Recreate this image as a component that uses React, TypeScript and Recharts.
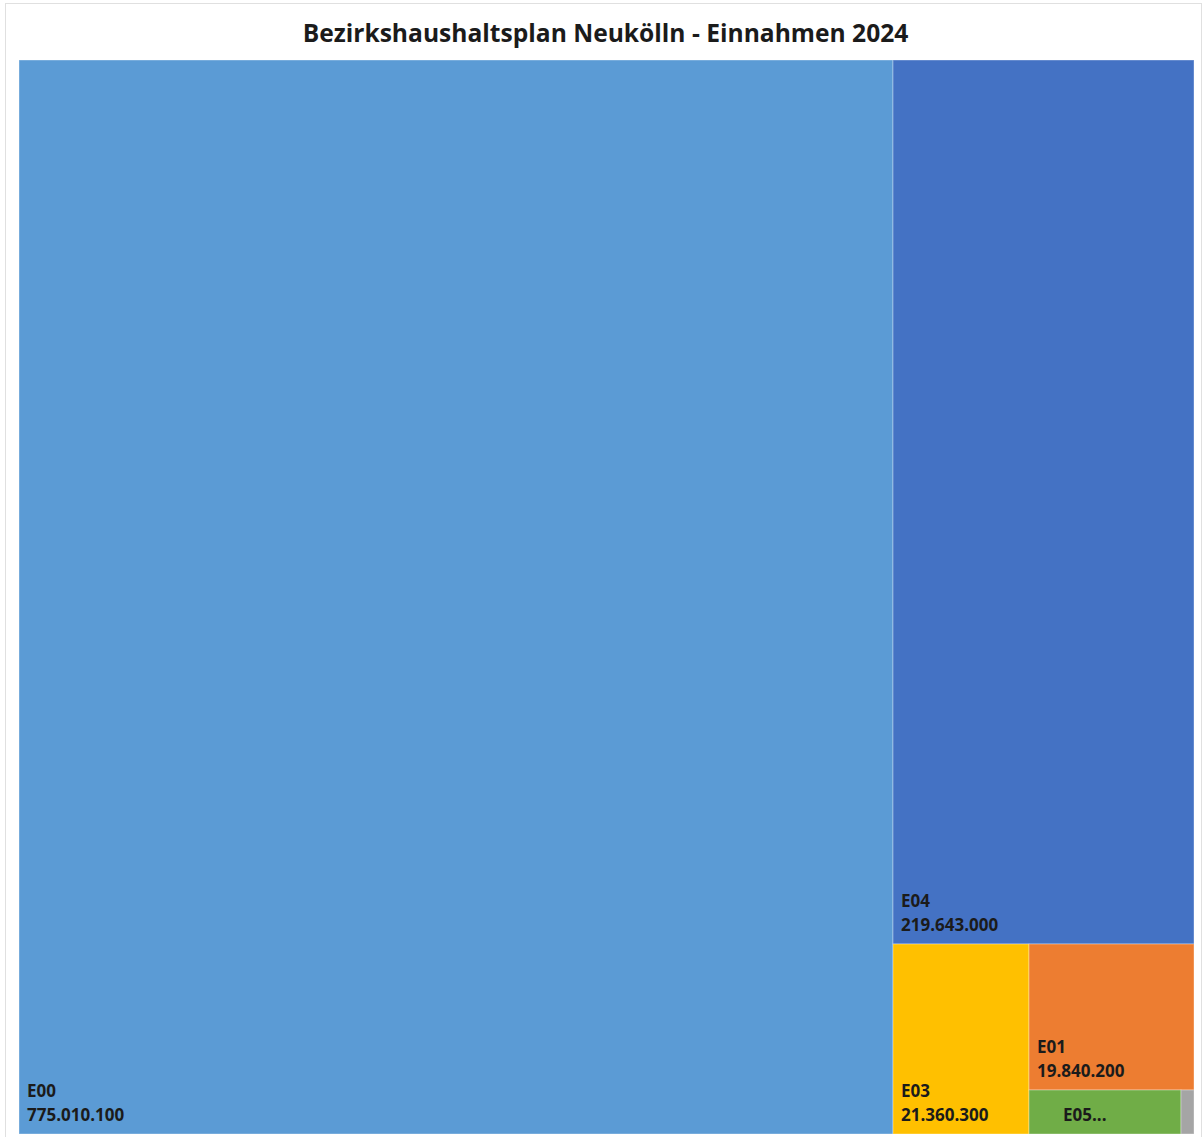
import React from 'react';
import { Treemap } from 'recharts';

// Einnahmen nach Einzelplan (EUR)
const names = ['E00', 'E04', 'E03', 'E01', 'E05', 'E06'];
const values = [775010100, 219643000, 21360300, 19840200, 5520000, 450000];
const colors = ['#5B9BD5', '#4472C4', '#FFC000', '#ED7D31', '#70AD47', '#A5A5A5'];

const data = names.map((name, i) => ({ name, value: values[i] }));

const formatDe = (v: number) => String(Math.round(v)).replace(/\B(?=(\d{3})+(?!\d))/g, '.');

const FONT = '"Open Sans", Lato, sans-serif';

function Cell(props: any) {
  const { x, y, width, height, name, value, index, depth } = props;
  if (depth !== 1) return null;
  const bottom = y + height;
  const showFull = height > 60 && width > 100;
  const showShort = !showFull && width > 60;
  return (
    <g>
      <rect x={x} y={y} width={width} height={height} fill={colors[index % colors.length]} stroke="rgba(255,255,255,0.35)" strokeWidth={1} />
      {showFull && (
        <>
          <text x={x + 8} y={bottom - 37} fontFamily={FONT} fontWeight={700} fontSize={17} fill="#1b1b1b">
            {name}
          </text>
          <text x={x + 8} y={bottom - 13} fontFamily={FONT} fontWeight={700} fontSize={17} fill="#1b1b1b">
            {formatDe(value)}
          </text>
        </>
      )}
      {showShort && (
        <text x={x + 34} y={bottom - 13} fontFamily={FONT} fontWeight={700} fontSize={17} fill="#1b1b1b">
          {name}...
        </text>
      )}
    </g>
  );
}

export default function App() {
  return (
    <div style={{ position: 'absolute', left: 0, top: 0, width: 1202, height: 1137, background: '#fff' }}>
      <div
        style={{
          position: 'absolute',
          left: 5,
          top: 3,
          width: 1195,
          height: 1133,
          border: '1px solid #e0e0e0',
        }}
      />
      <div
        style={{
          position: 'absolute',
          left: 0,
          top: 15,
          width: 1211,
          textAlign: 'center',
          fontFamily: FONT,
          fontWeight: 700,
          fontSize: 24.6,
          lineHeight: '36px',
          color: '#1b1b1b',
        }}
      >
        Bezirkshaushaltsplan Neukölln - Einnahmen 2024
      </div>
      <div style={{ position: 'absolute', left: 19, top: 60 }}>
        <Treemap
          width={1175}
          height={1074}
          data={data}
          dataKey="value"
          nameKey="name"
          aspectRatio={1}
          content={<Cell />}
          isAnimationActive={false}
        />
      </div>
    </div>
  );
}
